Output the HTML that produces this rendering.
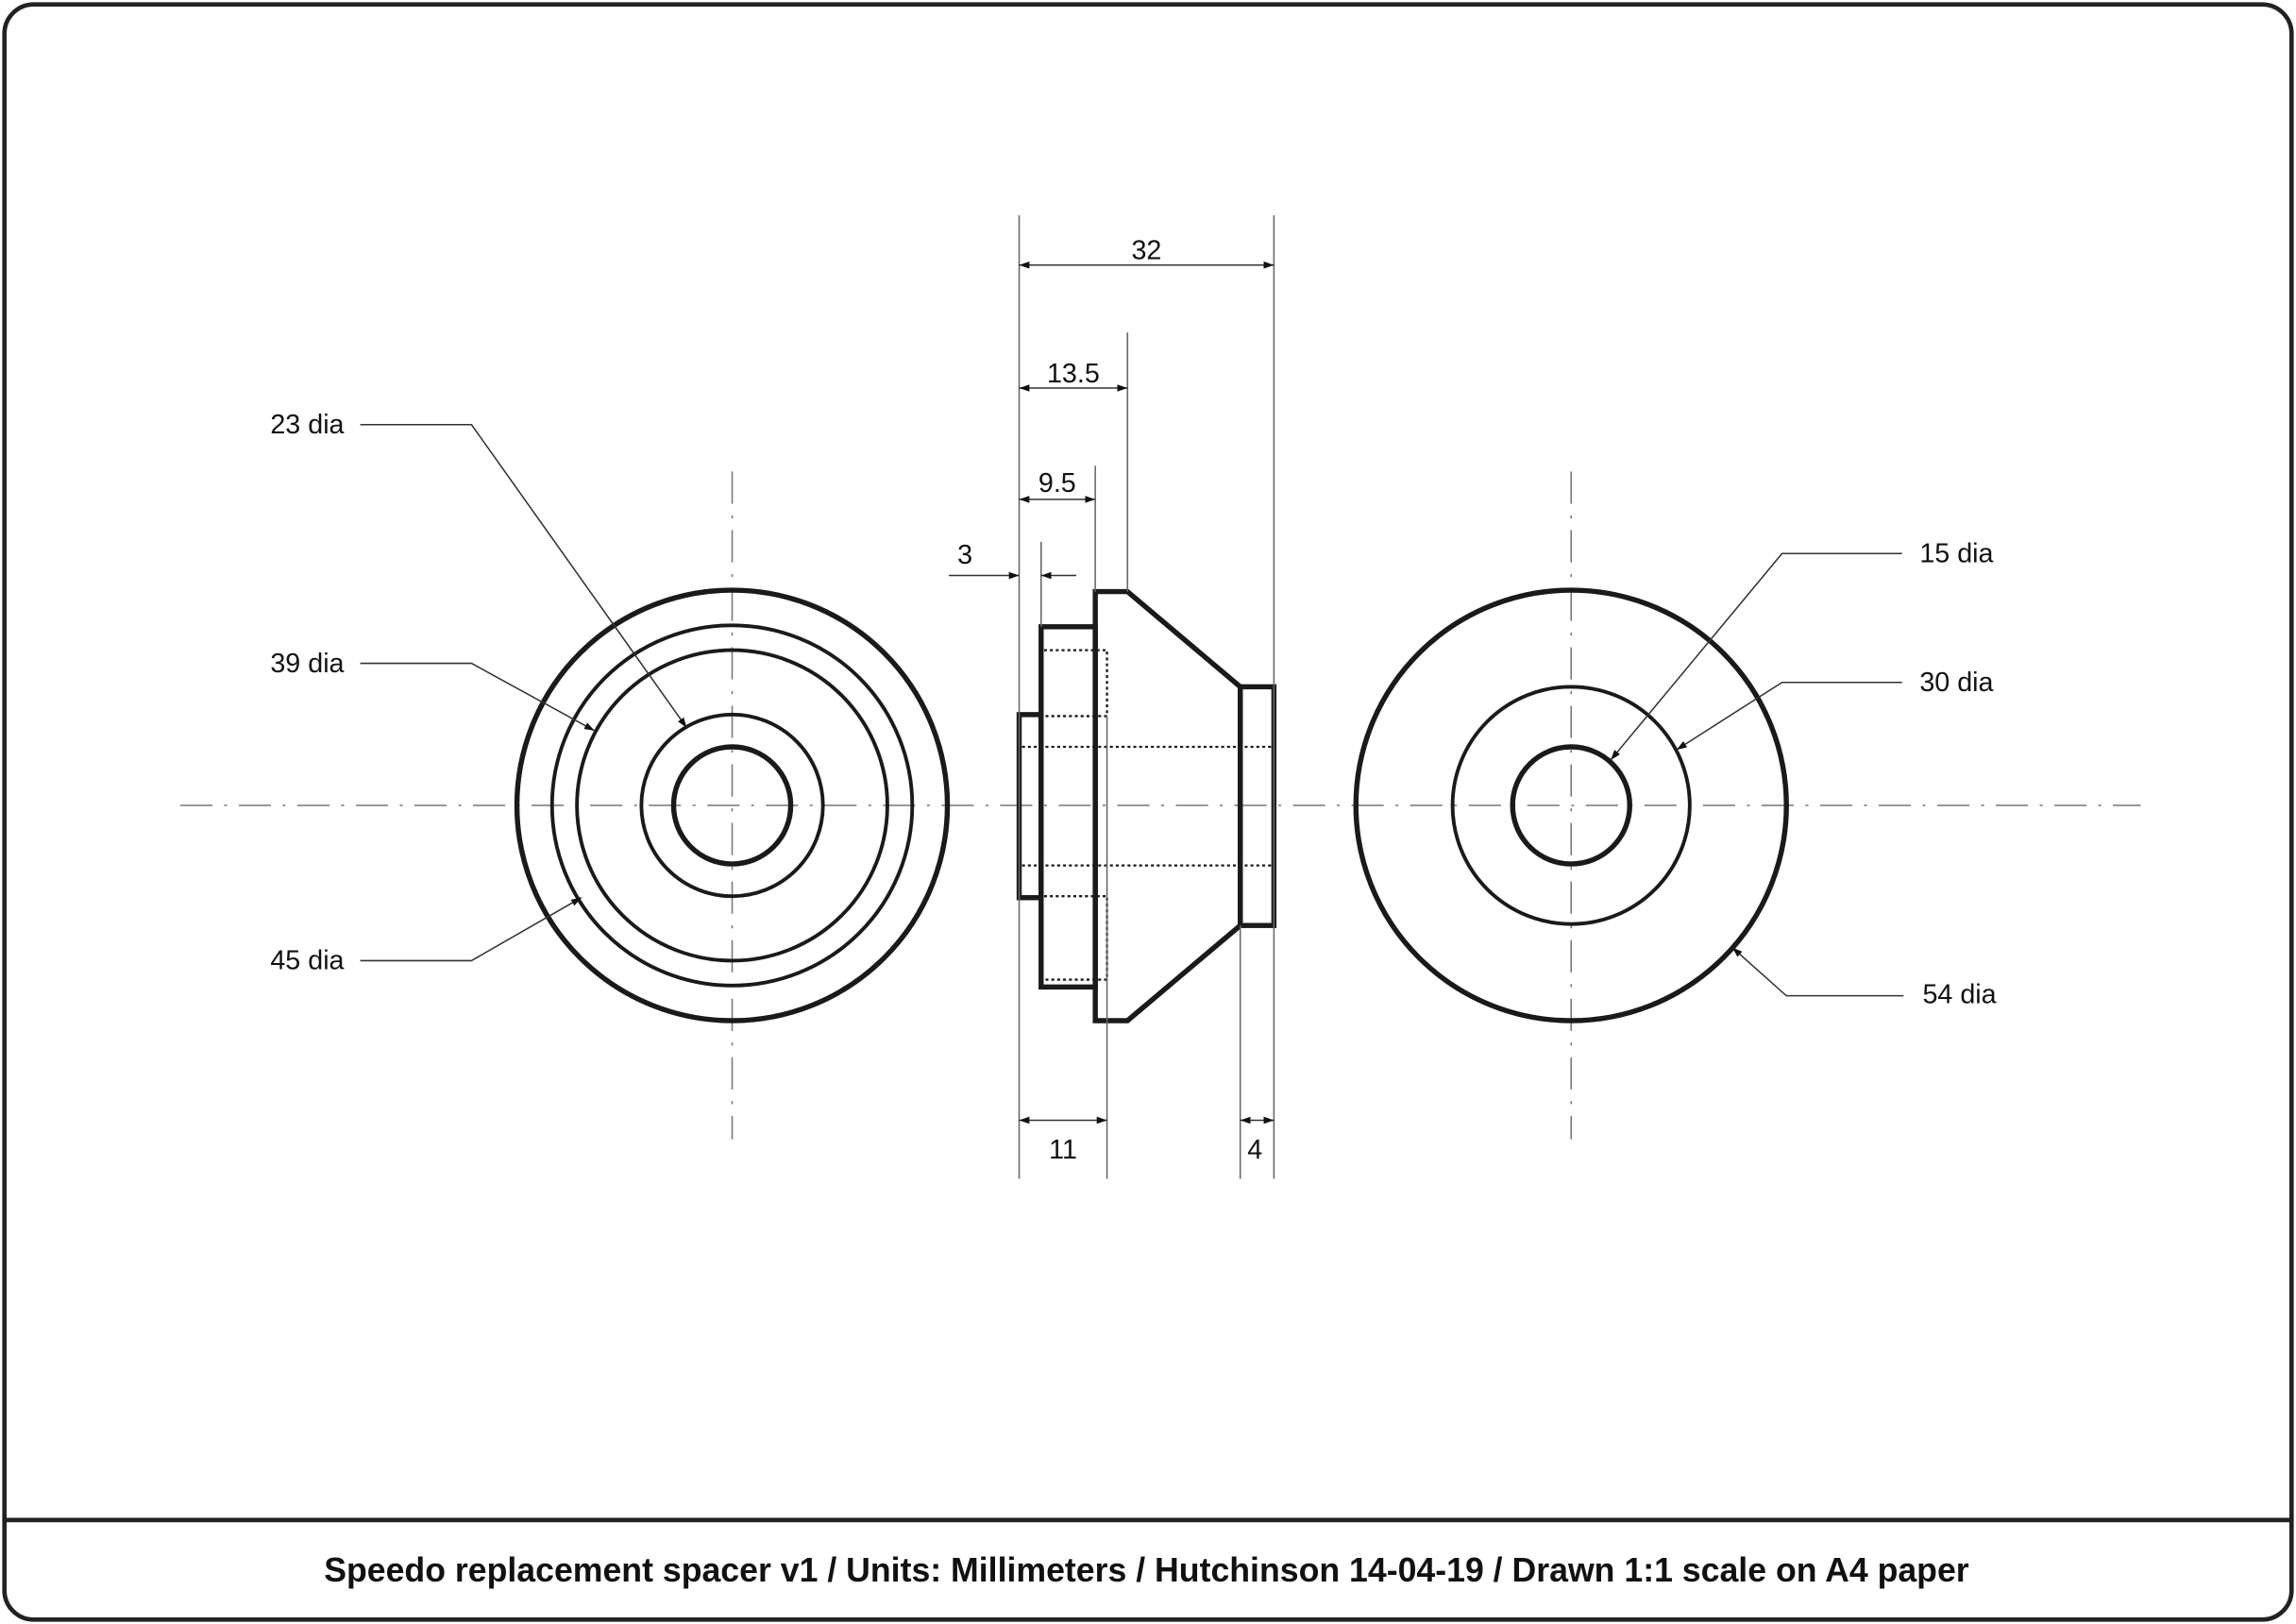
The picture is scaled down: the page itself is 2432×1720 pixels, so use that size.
<!DOCTYPE html>
<html><head><style>html,body{margin:0;padding:0;background:#fff}svg{display:block}</style></head>
<body>
<svg width="2432" height="1720" viewBox="0 0 1568 1109" xmlns="http://www.w3.org/2000/svg" font-family="Liberation Sans, Arial, sans-serif">
<defs>
<marker id="a" viewBox="0 0 10 10" refX="10" refY="5" markerWidth="7" markerHeight="7" orient="auto-start-reverse" markerUnits="userSpaceOnUse"><path d="M0,1.5 L10,5 L0,8.5z" fill="#111"/></marker>
</defs>
<rect x="3" y="3" width="1562" height="1103" rx="20" fill="none" stroke="#222" stroke-width="3"/>
<line x1="3" y1="1038" x2="1565" y2="1038" stroke="#222" stroke-width="3"/>
<text x="783" y="1080" font-size="23" font-weight="bold" text-anchor="middle" fill="#111">Speedo replacement spacer v1 / Units: Millimeters / Hutchinson 14-04-19 / Drawn 1:1 scale on A4 paper</text>

<g stroke="#777" stroke-width="1" fill="none" stroke-dasharray="22,8,2,8">
<line x1="123" y1="550" x2="1462" y2="550"/>
<line x1="500" y1="322" x2="500" y2="778"/>
<line x1="1073" y1="322" x2="1073" y2="778"/>
</g>

<g fill="none" stroke="#1a1a1a">
<circle cx="500" cy="550" r="147" stroke-width="3.5"/>
<circle cx="500" cy="550" r="123" stroke-width="2.5"/>
<circle cx="500" cy="550" r="106" stroke-width="2.5"/>
<circle cx="500" cy="550" r="62" stroke-width="2.5"/>
<circle cx="500" cy="550" r="40" stroke-width="3.5"/>
<circle cx="1073" cy="550" r="147" stroke-width="3.5"/>
<circle cx="1073" cy="550" r="81" stroke-width="2.5"/>
<circle cx="1073" cy="550" r="40" stroke-width="3.5"/>
</g>

<g fill="none" stroke="#1a1a1a" stroke-width="3.5" stroke-linejoin="miter">
<rect x="696" y="488" width="15" height="125"/>
<rect x="711" y="428" width="37" height="246"/>
<path d="M748,404 L770,404 L847,469 L847,632 L770,697 L748,697 Z"/>
<rect x="847" y="469" width="23" height="163"/>
</g>
<line x1="847" y1="469" x2="847" y2="632" stroke="#1a1a1a" stroke-width="1.5"/>
<g fill="none" stroke="#1a1a1a" stroke-width="1.5" stroke-dasharray="2,2">
<path d="M713,444 L756,444 L756,489 L713,489"/>
<path d="M713,612 L756,612 L756,669 L713,669"/>
<line x1="698" y1="510" x2="868" y2="510"/>
<line x1="698" y1="591" x2="868" y2="591"/>
</g>

<g stroke="#666" stroke-width="1" fill="none">
<line x1="696" y1="147" x2="696" y2="805"/>
<line x1="870" y1="147" x2="870" y2="805"/>
<line x1="770" y1="227" x2="770" y2="404"/>
<line x1="748" y1="318" x2="748" y2="404"/>
<line x1="711" y1="370" x2="711" y2="428"/>
<line x1="756" y1="489" x2="756" y2="805"/>
<line x1="847" y1="632" x2="847" y2="805"/>
</g>
<g stroke="#333" stroke-width="1" fill="none">
<line x1="696" y1="181" x2="870" y2="181" marker-start="url(#a)" marker-end="url(#a)"/>
<line x1="696" y1="265" x2="770" y2="265" marker-start="url(#a)" marker-end="url(#a)"/>
<line x1="696" y1="341" x2="748" y2="341" marker-start="url(#a)" marker-end="url(#a)"/>
<line x1="648" y1="393" x2="696" y2="393" marker-end="url(#a)"/>
<line x1="735" y1="393" x2="711" y2="393" marker-end="url(#a)"/>
<line x1="696" y1="765" x2="756" y2="765" marker-start="url(#a)" marker-end="url(#a)"/>
<line x1="847" y1="765" x2="870" y2="765" marker-start="url(#a)" marker-end="url(#a)"/>
<polyline points="246,290 322,290 469,497" marker-end="url(#a)"/>
<polyline points="246,453 322,453 406,499" marker-end="url(#a)"/>
<polyline points="246,656 322,656 397,613" marker-end="url(#a)"/>
<polyline points="1299,378 1217,378 1100,519" marker-end="url(#a)"/>
<polyline points="1299,466 1217,466 1145,512" marker-end="url(#a)"/>
<polyline points="1300,680 1220,680 1183,647" marker-end="url(#a)"/>
</g>
<g font-size="18.5" fill="#111">
<text x="783" y="177" text-anchor="middle">32</text>
<text x="733" y="261" text-anchor="middle">13.5</text>
<text x="722" y="336" text-anchor="middle">9.5</text>
<text x="659" y="385" text-anchor="middle">3</text>
<text x="726" y="791" text-anchor="middle">11</text>
<text x="857" y="791" text-anchor="middle">4</text>
<text x="235" y="296" text-anchor="end">23 dia</text>
<text x="235" y="459" text-anchor="end">39 dia</text>
<text x="235" y="662" text-anchor="end">45 dia</text>
<text x="1311" y="384">15 dia</text>
<text x="1311" y="472">30 dia</text>
<text x="1313" y="685">54 dia</text>
</g>
</svg>
</body></html>
